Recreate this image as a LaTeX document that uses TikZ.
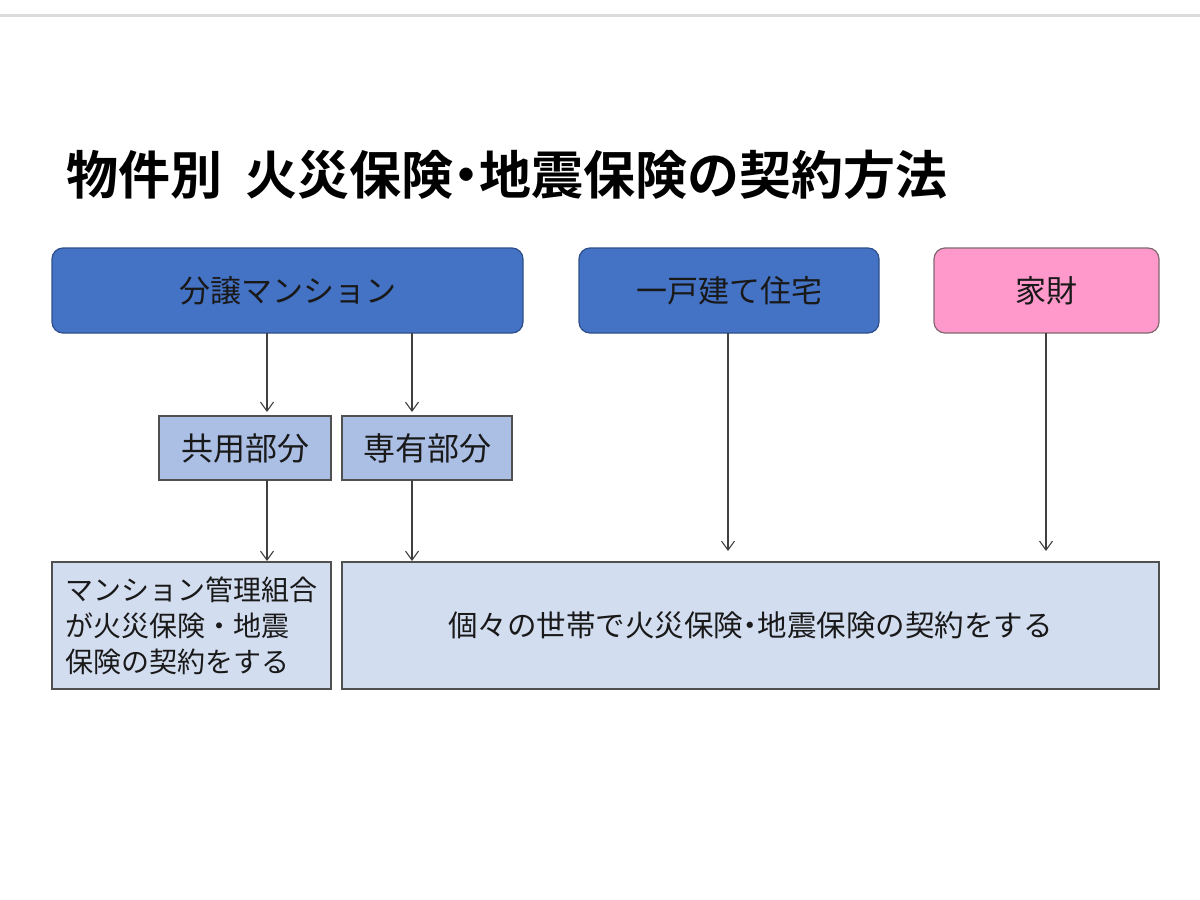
\documentclass[tikz,border=0pt]{standalone}
\usepackage{fontspec}
\usetikzlibrary{arrows.meta}
\newfontfamily\cjk{Noto Sans CJK JP}
\newfontfamily\cjkb{Noto Sans CJK JP Bold}
\newcommand{\hdot}{\kern-0.25em・\kern-0.25em}
\definecolor{dblue}{HTML}{4472C4}
\definecolor{dblueb}{HTML}{2F4F8A}
\definecolor{pinkf}{HTML}{FF99CC}
\definecolor{pinkb}{HTML}{806870}
\definecolor{midblue}{HTML}{ABBFE5}
\definecolor{ltblue}{HTML}{D3DDF0}
\definecolor{boxb}{HTML}{505050}
\definecolor{linec}{HTML}{404040}
\definecolor{topline}{HTML}{DCDCDC}
\tikzset{
  every node/.style={font=\cjk, text=black!90, inner sep=0pt, outer sep=0pt},
  headbox/.style={draw=dblueb, fill=dblue, line width=1.2pt, rounded corners=11pt, font=\cjk\fontsize{31}{36}\selectfont},
  pinkbox/.style={draw=pinkb, fill=pinkf, line width=1.2pt, rounded corners=11pt, font=\cjk\fontsize{31}{36}\selectfont},
  partbox/.style={draw=boxb, fill=midblue, line width=1.2pt, font=\cjk\fontsize{32}{36}\selectfont},
  resbox/.style={draw=boxb, fill=ltblue, line width=1.2pt, font=\cjk\fontsize{28}{36}\selectfont},
  arr/.style={draw=linec, line width=1.1pt, -{Straight Barb[length=9pt,width=13pt,line width=1.1pt]}},
}
\begin{document}
\begin{tikzpicture}[x=1pt,y=-1pt]
\useasboundingbox (0,0) rectangle (1200,900);
\fill[white] (0,0) rectangle (1200,900);
\draw[topline, line width=3pt] (0,15) -- (1200,15);

\node[anchor=west, font=\cjkb\fontsize{52}{56}\selectfont, text=black] (title) at (66,175) {物件別\hspace{0.45em}火災保険\hdot 地震保険の契約方法};

\node[headbox, minimum width=471pt, minimum height=85pt] (bunjo) at (287.5,290.5) {分譲マンション};
\node[headbox, minimum width=300pt, minimum height=85pt] (kodate) at (729,290.5) {一戸建て住宅};
\node[pinkbox, minimum width=225pt, minimum height=85pt] (kazai) at (1046.5,290.5) {家財};

\node[partbox, minimum width=172pt, minimum height=64pt] (kyoyo) at (245,448) {共用部分};
\node[partbox, minimum width=170pt, minimum height=64pt] (senyu) at (427,448) {専有部分};

\node[resbox, minimum width=279pt, minimum height=127pt, align=left] (kanri) at (191.5,625.5) {マンション管理組合\\が火災保険・地震\\保険の契約をする};
\node[resbox, font=\cjk\fontsize{29.5}{36}\selectfont, minimum width=817pt, minimum height=127pt] (kojin) at (750.5,625.5) {個々の世帯で火災保険\hdot 地震保険の契約をする};

\coordinate (xa) at (267,0);
\coordinate (xb) at (412,0);
\coordinate (xc) at (728,0);
\coordinate (xd) at (1046,0);

\draw[arr, shorten >=4pt] (bunjo.south -| xa) -- (kyoyo.north -| xa);
\draw[arr, shorten >=4pt] (bunjo.south -| xb) -- (senyu.north -| xb);
\draw[arr, shorten >=1pt] (kyoyo.south -| xa) -- (kanri.north -| xa);
\draw[arr, shorten >=1pt] (senyu.south -| xb) -- (kojin.north -| xb);
\draw[arr, shorten >=11pt] (kodate.south -| xc) -- (kojin.north -| xc);
\draw[arr, shorten >=11pt] (kazai.south -| xd) -- (kojin.north -| xd);
\end{tikzpicture}
\end{document}
